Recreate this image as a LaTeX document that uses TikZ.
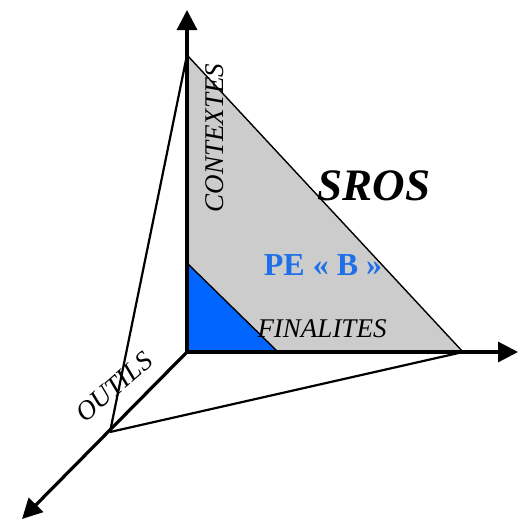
\documentclass[tikz,border=0pt]{standalone}
\usepackage{fontspec}
\setmainfont{Liberation Serif}
\usetikzlibrary{arrows.meta}
\definecolor{peblue}{HTML}{0066FF}
\definecolor{txtblue}{HTML}{1F6FE8}
\definecolor{planegray}{HTML}{CCCCCC}
\tikzset{
  axis/.style={line width=3.2pt,-{Triangle[length=20pt,width=20pt]}},
  edge/.style={line width=1.4pt},
  link/.style={line width=2.2pt},
  lbl/.style={inner sep=0pt,font=\fontsize{27}{27}\selectfont\itshape}
}
\begin{document}
\begin{tikzpicture}[x=1pt,y=-1pt]
\useasboundingbox (0,0) rectangle (518,522);
\coordinate (O) at (187,352);
\coordinate (C) at (187,55);
\coordinate (F) at (463,352);
\coordinate (T) at (110,432);
\coordinate (b1) at (187,263);
\coordinate (b2) at (278,352);
\coordinate (up) at (187,10);
\coordinate (right) at (518,352);
\coordinate (dl) at (22,519);
% planes
\fill[planegray] (C) -- (O) -- (F) -- cycle;
\fill[peblue] (b1) -- (O) -- (b2) -- cycle;
\draw[edge] (C) -- (F);
\draw[edge] (b1) -- (b2);
% links to OUTILS point
\draw[link] (T) -- (C);
\draw[link] (T) -- (F);
% axes
\draw[axis] (O) -- (up);
\draw[axis] (O) -- (right);
\draw[axis] (O) -- (dl);
% labels
\node[lbl,rotate=90] (ctx) at (215,138) {CONTEXTES};
\node[lbl,anchor=base] (fin) at (322,337) {FINALITES};
\node[lbl,rotate=41] (out) at (114,387) {OUTILS};
\node[inner sep=0pt,font=\fontsize{45}{45}\selectfont\bfseries\itshape] (sros) at (374,186) {SROS};
\node[inner sep=0pt,text=txtblue,font=\fontsize{32}{32}\selectfont\bfseries] (pe) at (323,265) {PE « B »};
\end{tikzpicture}
\end{document}
